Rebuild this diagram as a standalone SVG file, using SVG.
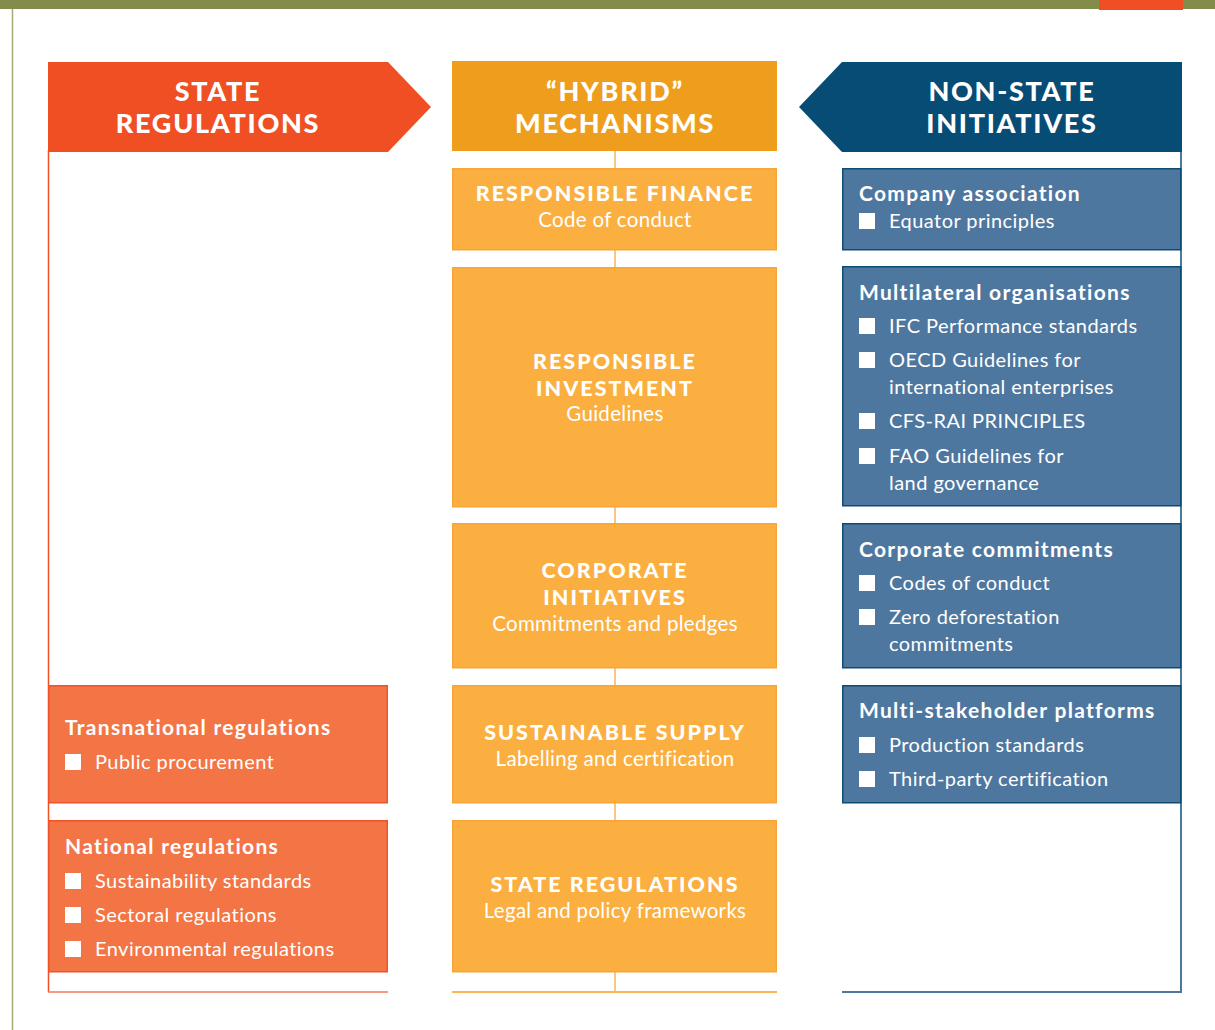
<svg xmlns="http://www.w3.org/2000/svg" width="1215" height="1030" viewBox="0 0 1215 1030">
<style>
  text { font-family: Lato, "Open Sans", "Liberation Sans", sans-serif; fill: #ffffff; }
  .hdr { font-size: 27px; font-weight: 900; text-anchor: middle; letter-spacing: 1.7px; }
  .ttl { font-size: 21.5px; font-weight: 900; text-anchor: middle; letter-spacing: 2px; }
  .sub { font-size: 20.5px; font-weight: 400; text-anchor: middle; letter-spacing: 0.3px; }
  .lt { font-size: 21px; font-weight: 700; letter-spacing: 1.3px; }
  .it { font-size: 20px; font-weight: 400; letter-spacing: 0.45px; }
  .sbox { fill: #F37545; stroke: #F0532A; stroke-width: 1.5; }
  .hbox { fill: #FAAF40; stroke: #F7A53A; stroke-width: 1.5; }
  .nbox { fill: #4E779F; stroke: #0F4C75; stroke-width: 1.5; }
  .bul { fill: #ffffff; }
  .conn { stroke: #F9B556; stroke-width: 1.5; fill: none; }
</style>

<!-- page decoration -->
<rect x="0" y="0" width="1215" height="9" fill="#848C4C"/>
<rect x="1099" y="0" width="84" height="10" fill="#F04E23"/>
<line x1="12.5" y1="9" x2="12.5" y2="1030" stroke="#A3AC77" stroke-width="1.5"/>

<!-- frame / connectors -->
<g id="connectors">
  <line x1="48.5" y1="150" x2="48.5" y2="992" stroke="#F04E23" stroke-width="1.5"/>
  <line x1="48" y1="992" x2="388" y2="992" stroke="#F3785A" stroke-width="1.5"/>
  <line x1="1181" y1="150" x2="1181" y2="992" stroke="#0F4C75" stroke-width="1.5"/>
  <line x1="842" y1="992" x2="1182" y2="992" stroke="#4E779F" stroke-width="2"/>
  <line x1="452" y1="992" x2="777" y2="992" stroke="#F9B556" stroke-width="2"/>
  <line class="conn" x1="615" y1="151" x2="615" y2="168"/>
  <line class="conn" x1="615" y1="250" x2="615" y2="267"/>
  <line class="conn" x1="615" y1="507" x2="615" y2="523"/>
  <line class="conn" x1="615" y1="668" x2="615" y2="685"/>
  <line class="conn" x1="615" y1="803" x2="615" y2="820"/>
  <line class="conn" x1="615" y1="972" x2="615" y2="992"/>
</g>

<!-- headers -->
<g id="hdr-state">
  <polygon points="48,62 388,62 431,107 388,152 48,152" fill="#F04E23"/>
  <text class="hdr" x="218" y="101">STATE</text>
  <text class="hdr" x="218" y="133">REGULATIONS</text>
</g>
<g id="hdr-hybrid">
  <rect x="452" y="61" width="325" height="90" fill="#EE9E1C"/>
  <text class="hdr" x="615" y="101">“HYBRID”</text>
  <text class="hdr" x="615" y="133">MECHANISMS</text>
</g>
<g id="hdr-nonstate">
  <polygon points="842,62 1182,62 1182,152 842,152 799,107" fill="#064C75"/>
  <text class="hdr" x="1012" y="101">NON-STATE</text>
  <text class="hdr" x="1012" y="133">INITIATIVES</text>
</g>

<!-- hybrid column -->
<g id="h-finance">
  <rect class="hbox" x="452.75" y="168.75" width="323.5" height="81"/>
  <text class="ttl" x="615" y="201">RESPONSIBLE FINANCE</text>
  <text class="sub" x="615" y="227">Code of conduct</text>
</g>
<g id="h-investment">
  <rect class="hbox" x="452.75" y="267.75" width="323.5" height="239"/>
  <text class="ttl" x="615" y="369">RESPONSIBLE</text>
  <text class="ttl" x="615" y="396">INVESTMENT</text>
  <text class="sub" x="615" y="421">Guidelines</text>
</g>
<g id="h-corporate">
  <rect class="hbox" x="452.75" y="523.75" width="323.5" height="144"/>
  <text class="ttl" x="615" y="578">CORPORATE</text>
  <text class="ttl" x="615" y="605">INITIATIVES</text>
  <text class="sub" x="615" y="631">Commitments and pledges</text>
</g>
<g id="h-supply">
  <rect class="hbox" x="452.75" y="685.75" width="323.5" height="117"/>
  <text class="ttl" x="615" y="740">SUSTAINABLE SUPPLY</text>
  <text class="sub" x="615" y="766">Labelling and certification</text>
</g>
<g id="h-state">
  <rect class="hbox" x="452.75" y="820.75" width="323.5" height="151"/>
  <text class="ttl" x="615" y="892">STATE REGULATIONS</text>
  <text class="sub" x="615" y="918">Legal and policy frameworks</text>
</g>

<!-- state column -->
<g id="s-transnational">
  <rect class="sbox" x="48.75" y="685.75" width="338.5" height="117"/>
  <text class="lt" x="65" y="735">Transnational regulations</text>
  <rect class="bul" x="65" y="754" width="16" height="16"/>
  <text class="it" x="95" y="769">Public procurement</text>
</g>
<g id="s-national">
  <rect class="sbox" x="48.75" y="820.75" width="338.5" height="151"/>
  <text class="lt" x="65" y="854">National regulations</text>
  <rect class="bul" x="65" y="873" width="16" height="16"/>
  <text class="it" x="95" y="888">Sustainability standards</text>
  <rect class="bul" x="65" y="907" width="16" height="16"/>
  <text class="it" x="95" y="922">Sectoral regulations</text>
  <rect class="bul" x="65" y="941" width="16" height="16"/>
  <text class="it" x="95" y="956">Environmental regulations</text>
</g>

<!-- non-state column -->
<g id="n-company">
  <rect class="nbox" x="842.75" y="168.75" width="338" height="81"/>
  <text class="lt" x="859" y="201">Company association</text>
  <rect class="bul" x="859" y="213" width="16" height="16"/>
  <text class="it" x="889" y="228">Equator principles</text>
</g>
<g id="n-multilateral">
  <rect class="nbox" x="842.75" y="266.75" width="338" height="239"/>
  <text class="lt" x="859" y="300">Multilateral organisations</text>
  <rect class="bul" x="859" y="318" width="16" height="16"/>
  <text class="it" x="889" y="333">IFC Performance standards</text>
  <rect class="bul" x="859" y="352" width="16" height="16"/>
  <text class="it" x="889" y="367">OECD Guidelines for</text>
  <text class="it" x="889" y="394">international enterprises</text>
  <rect class="bul" x="859" y="413" width="16" height="16"/>
  <text class="it" x="889" y="428">CFS-RAI PRINCIPLES</text>
  <rect class="bul" x="859" y="448" width="16" height="16"/>
  <text class="it" x="889" y="463">FAO Guidelines for</text>
  <text class="it" x="889" y="490">land governance</text>
</g>
<g id="n-corporate">
  <rect class="nbox" x="842.75" y="523.75" width="338" height="144"/>
  <text class="lt" x="859" y="557">Corporate commitments</text>
  <rect class="bul" x="859" y="575" width="16" height="16"/>
  <text class="it" x="889" y="590">Codes of conduct</text>
  <rect class="bul" x="859" y="609" width="16" height="16"/>
  <text class="it" x="889" y="624">Zero deforestation</text>
  <text class="it" x="889" y="651">commitments</text>
</g>
<g id="n-multistakeholder">
  <rect class="nbox" x="842.75" y="685.75" width="338" height="117"/>
  <text class="lt" x="859" y="718">Multi-stakeholder platforms</text>
  <rect class="bul" x="859" y="737" width="16" height="16"/>
  <text class="it" x="889" y="752">Production standards</text>
  <rect class="bul" x="859" y="771" width="16" height="16"/>
  <text class="it" x="889" y="786">Third-party certification</text>
</g>
</svg>
